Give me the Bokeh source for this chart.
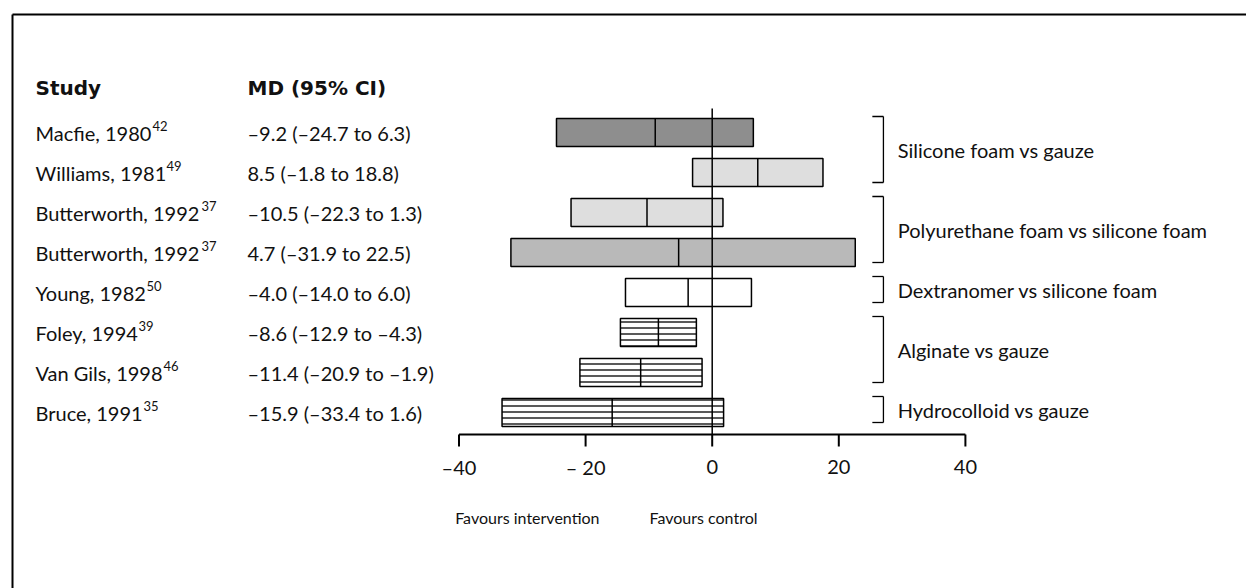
from bokeh.plotting import figure
from bokeh.models import Range1d, ColumnDataSource
from bokeh.core.properties import value
from bokeh.embed import file_html
from bokeh.resources import INLINE

# ---------------- data ----------------
studies = ["Macfie, 1980", "Williams, 1981", "Butterworth, 1992", "Butterworth, 1992",
           "Young, 1982", "Foley, 1994", "Van Gils, 1998", "Bruce, 1991"]
refs = ["42", "49", "37", "37", "50", "39", "46", "35"]
ci_text = ["–9.2 (–24.7 to 6.3)", "8.5 (–1.8 to 18.8)", "–10.5 (–22.3 to 1.3)",
           "4.7 (–31.9 to 22.5)", "–4.0 (–14.0 to 6.0)", "–8.6 (–12.9 to –4.3)",
           "–11.4 (–20.9 to –1.9)", "–15.9 (–33.4 to 1.6)"]
md = [-9.0, 7.2, -10.3, -5.3, -3.8, -8.5, -11.3, -15.8]
lower = [-24.6, -3.1, -22.3, -31.8, -13.7, -14.5, -20.9, -33.2]
upper = [6.5, 17.5, 1.7, 22.6, 6.2, -2.5, -1.6, 1.8]
fills = ["#8e8e8e", "#dedede", "#dedede", "#b9b9b9", "#ffffff", "#ffffff", "#ffffff", "#ffffff"]
hatched = [False, False, False, False, False, True, True, True]
groups = ["Silicone foam vs gauze", "Polyurethane foam vs silicone foam",
          "Dextranomer vs silicone foam", "Alginate vs gauze", "Hydrocolloid vs gauze"]
group_first = [1, 3, 5, 6, 8]
group_last = [2, 4, 5, 7, 8]
ticks = [-40, -20, 0, 20, 40]
tick_labels = ["–40", "– 20", "0", "20", "40"]
favours = ["Favours intervention", "Favours control"]

# ---------------- layout ----------------
W, H = 1246, 588
PX = 6.33          # pixels per x unit
RY = 40.0          # pixels per row
X0 = 711.7         # canvas x of value 0
Y1 = 132.0         # canvas y of row 1
XS, XE = -X0 / PX, (W - X0) / PX
YT, YB = 1 - Y1 / RY, 1 + (H - Y1) / RY

FONT = value("Lato")
FS = "20px"
INK = "#111111"

rows = list(range(1, len(studies) + 1))
BH = 0.7  # bar height in rows

p = figure(width=W, height=H, x_range=Range1d(XS, XE), y_range=Range1d(YB, YT),
           output_backend="svg", toolbar_location=None, min_border=0,
           background_fill_color="white", border_fill_color="white")
p.axis.visible = False
p.grid.visible = False
p.outline_line_color = None

def xd(px):  # canvas px -> data
    return XS + px / PX

def yd(py):
    return YT + py / RY

# outer border (left and top)
p.line([xd(12), xd(12)], [yd(14), YB], line_color="black", line_width=2)
p.line([xd(12), XE], [yd(14), yd(14)], line_color="black", line_width=2)

# headers
col_study = xd(35)
col_ci = xd(247)
p.text(x=[col_study, col_ci], y=[yd(87), yd(87)], text=["Study", "MD (95% CI)"],
       text_font=value("DejaVu Sans"), text_font_size="20px", text_font_style="bold",
       text_baseline="middle", text_align="left", text_color=INK)

src = ColumnDataSource(dict(y=rows, study=studies, ref=refs, ci=ci_text, md=md,
                            lo=lower, hi=upper, fill=fills,
                            y0=[r - BH / 2 for r in rows], y1=[r + BH / 2 for r in rows],
                            hatch=["horizontal_line" if h else " " for h in hatched]))
p.text(x=col_study, y="y", text="study", source=src, text_font=FONT, text_font_size=FS,
       text_baseline="middle", text_align="left", text_color=INK)
sup_dx = [117, 131, 166, 166, 111, 103, 128, 108]
for r, s, dx in zip(rows, refs, sup_dx):
    p.text(x=[col_study], y=[r], text=[s], x_offset=dx, y_offset=-7,
           text_font=FONT, text_font_size="13px", text_baseline="middle",
           text_align="left", text_color=INK)
p.text(x=col_ci, y="y", text="ci", source=src, text_font=FONT, text_font_size=FS,
       text_baseline="middle", text_align="left", text_color=INK)

# bars
p.hbar(y="y", left="lo", right="hi", height=BH, source=src, fill_color="fill",
       line_color="black", line_width=1.5, hatch_pattern="hatch", hatch_color="black",
       hatch_scale=6, hatch_weight=1.3)
p.segment(x0="md", y0="y0", x1="md", y1="y1",
          source=src, line_color="black", line_width=1.5)
# zero line
p.segment(x0=[0], y0=[0.4], x1=[0], y1=[8.55], line_color="black", line_width=1.5)

# axis
ax_y = 8.55
p.segment(x0=[ticks[0]], y0=[ax_y], x1=[ticks[-1]], y1=[ax_y], line_color="black", line_width=2)
p.segment(x0=ticks, y0=[ax_y] * len(ticks), x1=ticks, y1=[ax_y + 0.3] * len(ticks),
          line_color="black", line_width=2)
p.text(x=ticks, y=[9.35] * len(ticks), text=tick_labels, text_font=FONT, text_font_size=FS,
       text_baseline="middle", text_align="center", text_color=INK)
p.text(x=[-40.6, -9.9], y=[10.62, 10.62], text=favours, text_font=FONT, text_font_size="16px",
       text_baseline="middle", text_align="left", text_color=INK)

# group brackets
bx = 27.05
btick = 25.3
tops = [f - 0.4 for f in group_first]
bots = [l + 0.25 for l in group_last]
p.segment(x0=[bx] * len(groups), y0=tops, x1=[bx] * len(groups), y1=bots,
          line_color="black", line_width=1.3)
p.segment(x0=[btick] * len(groups), y0=tops, x1=[bx] * len(groups), y1=tops,
          line_color="black", line_width=1.3)
p.segment(x0=[btick] * len(groups), y0=bots, x1=[bx] * len(groups), y1=bots,
          line_color="black", line_width=1.3)
p.text(x=[29.3] * len(groups), y=[(t + b) / 2 for t, b in zip(tops, bots)], text=groups,
       text_font=FONT, text_font_size=FS, text_baseline="middle", text_align="left",
       text_color=INK)

open("out.html", "w").write(file_html(p, INLINE))
